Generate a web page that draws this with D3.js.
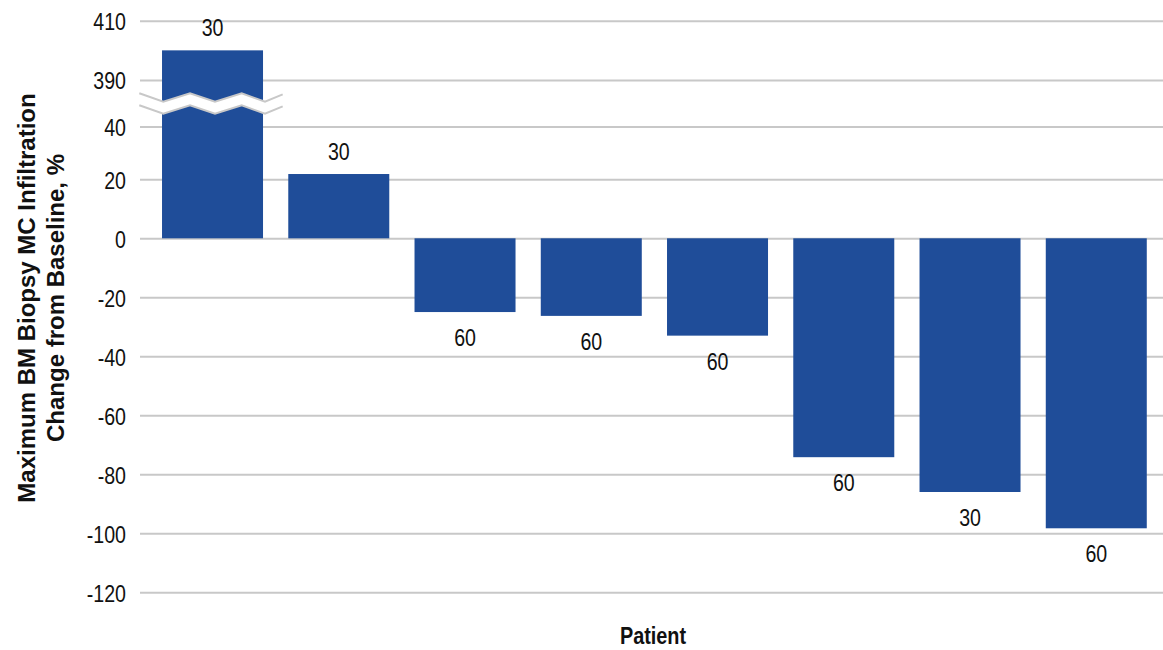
<!DOCTYPE html>
<html>
<head>
<meta charset="utf-8">
<script src="https://cdn.jsdelivr.net/npm/d3@7"></script>
<style>
  html, body { margin: 0; padding: 0; background: #fff; }
  svg { display: block; }
  text { font-family: "Liberation Sans", Arial, sans-serif; }
</style>
</head>
<body>
<svg id="chart" width="1163" height="650"></svg>
<script>
// Patients and their maximum change in BM MC infiltration (%)
const patients = ["P1", "P2", "P3", "P4", "P5", "P6", "P7", "P8"];
const changePct = [400, 22, -25, -26.3, -33, -74.2, -86, -98.3];
// Day of biopsy shown beside each bar
const biopsyDay = ["30", "30", "60", "60", "60", "60", "30", "60"];
// Y tick labels (axis broken between 40 and 390)
const yTicks = [410, 390, 40, 20, 0, -20, -40, -60, -80, -100, -120];

const svg = d3.select("#chart");
const narrow = 0.8;      // horizontal condensing for the narrow label face
const fs = 24.5;

// Broken axis: polylinear scale, lower and upper segments share the same pitch
const y = d3.scaleLinear()
  .domain([-120, 20, 40, 390, 410])
  .range([592.3, 179.3, 126.5, 80, 20.7]);

const x = d3.scaleBand()
  .domain(patients)
  .range([149.4, 1159.4])
  .paddingInner(0.2)
  .paddingOuter(0.1);

const gridLeft = 140, gridRight = 1163;

// Gridlines
const grid = svg.append("g")
  .attr("transform", `translate(${gridLeft},0)`)
  .call(d3.axisLeft(y).tickValues(yTicks).tickSize(-(gridRight - gridLeft)).tickFormat(""));
grid.select(".domain").remove();
grid.selectAll("line").attr("stroke", "#c8c8c8").attr("stroke-width", 2);

// Tick labels
const yAxis = svg.append("g")
  .attr("transform", "translate(126,0)")
  .call(d3.axisLeft(y).tickValues(yTicks).tickSize(0).tickPadding(0).tickFormat(d => String(d)));
yAxis.select(".domain").remove();
yAxis.attr("font-family", null).attr("font-size", null);
yAxis.selectAll("text")
  .attr("font-size", fs)
  .attr("fill", "#111")
  .attr("dy", "0.36em")
  .attr("transform", `scale(${narrow},1)`);

// Bars
svg.append("g").selectAll("rect")
  .data(changePct)
  .join("rect")
  .attr("x", (d, i) => x(patients[i]))
  .attr("width", x.bandwidth())
  .attr("y", d => Math.min(y(d), y(0)))
  .attr("height", d => Math.abs(y(d) - y(0)))
  .attr("fill", "#1f4d99");

// Day labels above positive bars, below negative bars
svg.append("g").selectAll("g")
  .data(changePct)
  .join("g")
  .attr("transform", (d, i) => {
    const cx = x(patients[i]) + x.bandwidth() / 2;
    const cy = d >= 0 ? y(d) - 14 : y(d) + 34;
    return `translate(${cx},${cy}) scale(${narrow},1)`;
  })
  .append("text")
  .attr("font-size", fs)
  .attr("fill", "#111")
  .attr("text-anchor", "middle")
  .text((d, i) => biopsyDay[i]);

// Axis break marker
const breakTop = 93.3, amp = 8.4, gap = 12;
const zx = [139.3, 163.3, 190, 215, 241.7, 265, 282.7];
const zTop = zx.map((px, i) => [px, i % 2 === 0 ? breakTop : breakTop + amp]);
zTop[zTop.length - 1][1] = breakTop + 1;
const zBot = zTop.map(([px, py]) => [px, py + gap]);
const line = d3.line();
svg.append("path")
  .attr("d", line(zTop.concat(zBot.slice().reverse())) + "Z")
  .attr("fill", "#fff");
svg.append("path").attr("d", line(zTop)).attr("fill", "none").attr("stroke", "#c8c8c8").attr("stroke-width", 2);
svg.append("path").attr("d", line(zBot)).attr("fill", "none").attr("stroke", "#c8c8c8").attr("stroke-width", 2);

// Axis titles
svg.append("text")
  .attr("font-weight", "bold")
  .attr("font-size", 24)
  .attr("fill", "#111")
  .attr("text-anchor", "middle")
  .attr("transform", "translate(35,298) rotate(-90)")
  .text("Maximum BM Biopsy MC Infiltration");
svg.append("text")
  .attr("font-weight", "bold")
  .attr("font-size", 24)
  .attr("fill", "#111")
  .attr("text-anchor", "middle")
  .attr("transform", "translate(64,298) rotate(-90)")
  .text("Change from Baseline, %");

svg.append("text")
  .attr("font-weight", "bold")
  .attr("font-size", fs)
  .attr("fill", "#111")
  .attr("text-anchor", "middle")
  .attr("transform", `translate(653,643.5) scale(0.81,1)`)
  .text("Patient");
</script>
</body>
</html>
